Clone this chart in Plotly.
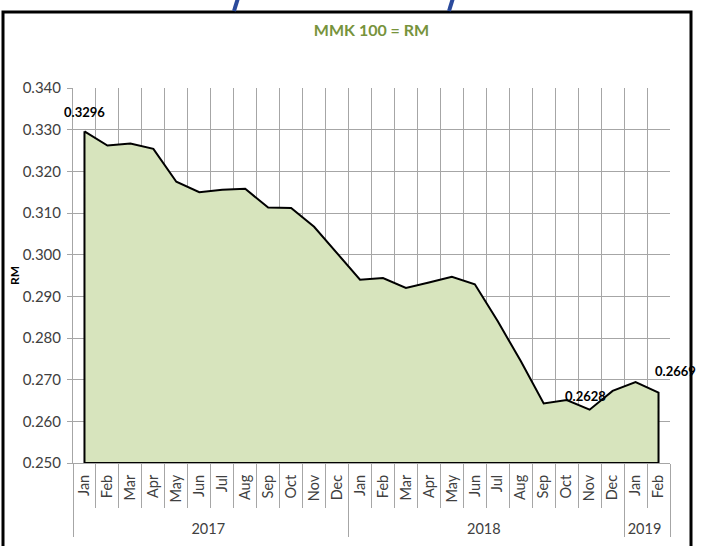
import plotly.graph_objects as go

# ---- data ----
years = ["2017"] * 12 + ["2018"] * 12 + ["2019"] * 2
months = ["Jan", "Feb", "Mar", "Apr", "May", "Jun", "Jul", "Aug", "Sep", "Oct", "Nov", "Dec",
          "Jan", "Feb", "Mar", "Apr", "May", "Jun", "Jul", "Aug", "Sep", "Oct", "Nov", "Dec",
          "Jan", "Feb"]
rates = [0.3296, 0.3262, 0.3267, 0.3254, 0.3175, 0.3150, 0.3156, 0.3158, 0.3113, 0.3112, 0.3067, 0.3003,
         0.2940, 0.2944, 0.2920, 0.2933, 0.2947, 0.2929, 0.2840, 0.2745, 0.2643, 0.2651, 0.2628, 0.2673,
         0.2694, 0.2669]
labelled_idx = [0, 22, 25]
y_ticks = [0.250, 0.260, 0.270, 0.280, 0.290, 0.300, 0.310, 0.320, 0.330, 0.340]
Y_MIN, Y_MAX = 0.250, 0.340

# month tick text padded (non-breaking spaces) so the year row sits lower, as in the reference
PAD = "\u00a0\u00a0"
month_ticks = [PAD + m for m in months]

# closed polygon: area from data down to axis minimum
px_years = years + [years[-1], years[0], years[0]]
px_months = month_ticks + [month_ticks[-1], month_ticks[0], month_ticks[0]]
py = rates + [Y_MIN, Y_MIN, rates[0]]

GRID = "#a6a6a6"
YTICKFONT = dict(family="Lato, Calibri, sans-serif", size=15, color="#404040")
XTICKFONT = dict(family="Lato, Calibri, sans-serif", size=14.5, color="#404040")
LABELFONT = dict(family="Lato, Century Gothic, sans-serif", size=13, color="#000000")

L, R, T, B = 73, 32, 88, 83
PW, PH = 702 - L - R, 546 - T - B


def px2x(px):
    return (px - L) / PW


def px2y(py_):
    return (546 - B - py_) / PH


fig = go.Figure()
fig.add_trace(go.Scatter(
    x=[px_years, px_months], y=py,
    mode="lines", fill="toself", fillcolor="#d7e4bd",
    line=dict(color="#000000", width=2),
    hoverinfo="skip", showlegend=False,
))

annots = []
shifts = {0: (0, 9), 22: (-4, 4), 25: (17, 12)}
for i in labelled_idx:
    dx, dy = shifts[i]
    annots.append(dict(
        x=i, y=rates[i], xref="x", yref="y",
        text="<b>%.4f</b>" % rates[i], showarrow=False,
        yanchor="bottom", xanchor="center", xshift=dx, yshift=dy,
        font=LABELFONT,
    ))

fig.update_layout(
    width=702, height=546,
    margin=dict(l=L, r=R, t=T, b=B, autoexpand=False),
    paper_bgcolor="white", plot_bgcolor="white",
    title=dict(text="<b>MMK 100 = RM</b>", x=0.5, xref="paper", xanchor="center",
               y=1 - 30 / 546, yref="container", yanchor="middle",
               font=dict(family="Lato, Century Gothic, sans-serif", size=16, color="#77933c")),
    annotations=annots,
    shapes=[
        dict(type="rect", xref="paper", yref="paper",
             x0=px2x(3), x1=px2x(691), y0=px2y(600), y1=px2y(12),
             line=dict(color="black", width=3), layer="above"),
        dict(type="line", xref="paper", yref="paper",
             x0=px2x(238), x1=px2x(234), y0=px2y(-2), y1=px2y(11),
             line=dict(color="#2b4a9c", width=4)),
        dict(type="line", xref="paper", yref="paper",
             x0=px2x(453), x1=px2x(449), y0=px2y(-2), y1=px2y(11),
             line=dict(color="#2b4a9c", width=4)),
    ],
)

fig.update_yaxes(
    range=[Y_MIN, Y_MAX], tickvals=y_ticks, tickformat=".3f",
    showgrid=True, gridcolor=GRID, gridwidth=1,
    showline=True, linecolor=GRID, linewidth=1,
    ticks="outside", ticklen=5, tickcolor=GRID,
    tickfont=YTICKFONT, zeroline=False, automargin=False,
    ticklabelstandoff=3,
    title=dict(text="<b>RM</b>", font=dict(family="Lato, sans-serif", size=12, color="black"),
               standoff=0),
)
fig.update_xaxes(
    type="multicategory", tickangle=-90,
    range=[-0.5, len(months) - 0.5], autorange=False,
    showgrid=True, gridcolor=GRID, gridwidth=1,
    showline=True, linecolor=GRID, linewidth=1,
    ticks="outside", ticklen=44, tickcolor=GRID,
    showdividers=True, dividercolor=GRID, dividerwidth=1,
    tickfont=XTICKFONT, zeroline=False, automargin=False,
    ticklabelstandoff=5,
)

fig.write_html(
    "out.html",
    config={"displayModeBar": False},
    post_script="document.body.style.margin='0';document.body.style.overflow='hidden';",
)
